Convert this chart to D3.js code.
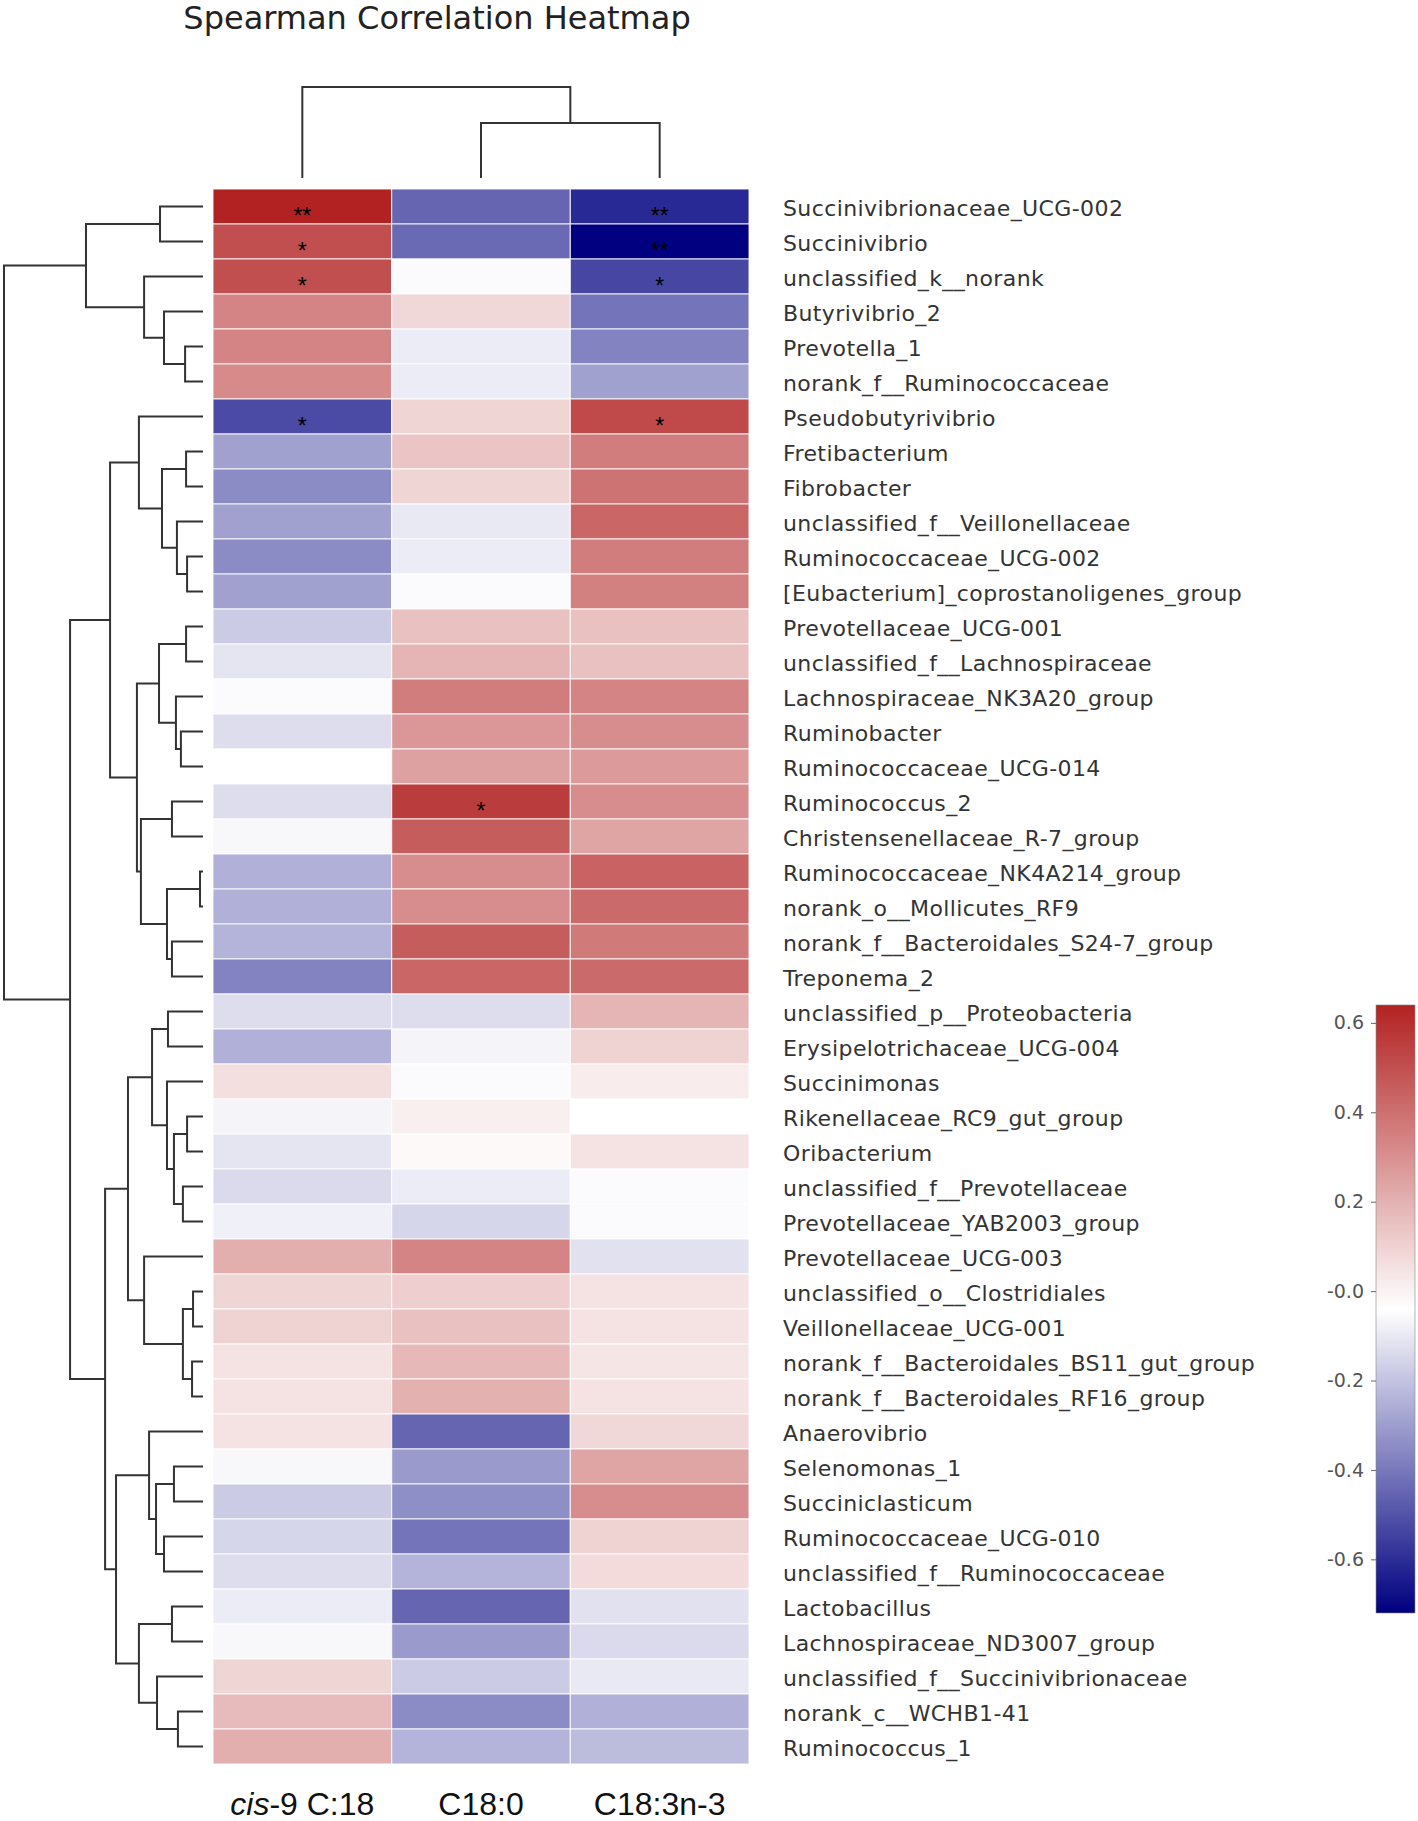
<!DOCTYPE html>
<html><head><meta charset="utf-8">
<script src="https://cdn.jsdelivr.net/npm/d3@7"></script>
<style>body{margin:0;background:#fff} svg{display:block}</style>
</head><body><svg id="chart" width="1418" height="1821"></svg>
<script>
const title = "Spearman Correlation Heatmap";
const rowLabels = [
 "Succinivibrionaceae_UCG-002","Succinivibrio","unclassified_k__norank","Butyrivibrio_2","Prevotella_1",
 "norank_f__Ruminococcaceae","Pseudobutyrivibrio","Fretibacterium","Fibrobacter","unclassified_f__Veillonellaceae",
 "Ruminococcaceae_UCG-002","[Eubacterium]_coprostanoligenes_group","Prevotellaceae_UCG-001","unclassified_f__Lachnospiraceae","Lachnospiraceae_NK3A20_group",
 "Ruminobacter","Ruminococcaceae_UCG-014","Ruminococcus_2","Christensenellaceae_R-7_group","Ruminococcaceae_NK4A214_group",
 "norank_o__Mollicutes_RF9","norank_f__Bacteroidales_S24-7_group","Treponema_2","unclassified_p__Proteobacteria","Erysipelotrichaceae_UCG-004",
 "Succinimonas","Rikenellaceae_RC9_gut_group","Oribacterium","unclassified_f__Prevotellaceae","Prevotellaceae_YAB2003_group",
 "Prevotellaceae_UCG-003","unclassified_o__Clostridiales","Veillonellaceae_UCG-001","norank_f__Bacteroidales_BS11_gut_group","norank_f__Bacteroidales_RF16_group",
 "Anaerovibrio","Selenomonas_1","Succiniclasticum","Ruminococcaceae_UCG-010","unclassified_f__Ruminococcaceae",
 "Lactobacillus","Lachnospiraceae_ND3007_group","unclassified_f__Succinivibrionaceae","norank_c__WCHB1-41","Ruminococcus_1"];
const colLabels = ["cis-9 C:18","C18:0","C18:3n-3"];
const valuesCis9 = [0.64,0.50,0.50,0.34,0.34,0.32,-0.52,-0.29,-0.35,-0.29,-0.35,-0.29,-0.18,-0.11,-0.05,-0.13,-0.04,-0.13,-0.06,-0.25,-0.25,-0.24,-0.37,-0.13,-0.25,0.06,-0.07,-0.11,-0.14,-0.08,0.21,0.09,0.10,0.05,0.05,0.05,-0.06,-0.18,-0.15,-0.13,-0.09,-0.06,0.09,0.17,0.21];
const valuesC180 = [-0.45,-0.44,-0.05,0.08,-0.09,-0.09,0.09,0.14,0.09,-0.10,-0.09,-0.05,0.15,0.19,0.36,0.28,0.25,0.56,0.46,0.31,0.31,0.46,0.43,-0.13,-0.07,-0.05,0.01,-0.02,-0.09,-0.15,0.34,0.11,0.15,0.18,0.20,-0.45,-0.31,-0.34,-0.41,-0.24,-0.45,-0.31,-0.18,-0.35,-0.24];
const valuesC183 = [-0.61,-0.72,-0.53,-0.41,-0.37,-0.29,0.52,0.36,0.39,0.43,0.36,0.35,0.15,0.15,0.34,0.31,0.27,0.31,0.24,0.44,0.42,0.37,0.42,0.19,0.10,0.02,-0.04,0.05,-0.05,-0.05,-0.12,0.05,0.05,0.04,0.05,0.08,0.24,0.31,0.10,0.07,-0.12,-0.14,-0.10,-0.25,-0.22];
const significance = [
 ["Succinivibrionaceae_UCG-002","cis-9 C:18","**"],["Succinivibrionaceae_UCG-002","C18:3n-3","**"],
 ["Succinivibrio","cis-9 C:18","*"],["Succinivibrio","C18:3n-3","**"],
 ["unclassified_k__norank","cis-9 C:18","*"],["unclassified_k__norank","C18:3n-3","*"],
 ["Pseudobutyrivibrio","cis-9 C:18","*"],["Pseudobutyrivibrio","C18:3n-3","*"],
 ["Ruminococcus_2","C18:0","*"]];
// hierarchical clustering (scipy-style linkage: ids < n are leaves, n+k is merge k)
const rowLinkage = [
 [4,5,0.090],[3,45,0.196],[2,46,0.296],[0,1,0.216],[48,47,0.588],
 [7,8,0.085],[10,11,0.080],[9,51,0.131],[50,52,0.206],[6,53,0.322],
 [12,13,0.085],[15,16,0.111],[14,56,0.136],[55,57,0.221],
 [17,18,0.156],[19,20,0.015],[21,22,0.156],[60,61,0.181],[59,62,0.312],[58,63,0.332],[54,64,0.467],
 [23,24,0.176],[26,27,0.080],[28,29,0.101],[67,68,0.146],[25,69,0.181],[66,70,0.256],
 [31,32,0.050],[33,34,0.055],[72,73,0.101],[30,74,0.296],[71,75,0.377],
 [36,37,0.146],[38,39,0.196],[77,78,0.236],[35,79,0.271],
 [40,41,0.156],[43,44,0.126],[42,82,0.231],[81,83,0.322],[80,84,0.437],
 [76,85,0.492],[65,86,0.668],[49,87,1.000]];
const colLinkage = [[1,2,0.604],[0,3,1.000]];
const colorbarTicks = [0.6,0.4,0.2,0,-0.2,-0.4,-0.6];
const colorbarTickLabels = ["0.6","0.4","0.2","-0.0","-0.2","-0.4","-0.6"];

const svg = d3.select("#chart");
const columns = [valuesCis9, valuesC180, valuesC183];
const cells = [];
rowLabels.forEach((r,i)=>colLabels.forEach((c,j)=>cells.push({row:r,col:c,v:columns[j][i]})));

const x = d3.scaleBand().domain(colLabels).range([213,749]);
const y = d3.scaleBand().domain(rowLabels).range([189,1764]);
const all = cells.map(d=>d.v);
const vmin = d3.min(all), vmax = d3.max(all);
const color = d3.scaleLinear().domain([vmin,(vmin+vmax)/2,vmax]).range(["#000080","#ffffff","#b22222"]);

// title
svg.append("text").attr("x",437).attr("y",29).attr("text-anchor","middle")
  .attr("font-family","DejaVu Sans").attr("font-size",32).attr("fill","#222").text(title);

// cells
svg.append("g").selectAll("rect").data(cells).join("rect")
  .attr("x",d=>x(d.col)).attr("y",d=>y(d.row))
  .attr("width",x.bandwidth()).attr("height",y.bandwidth())
  .attr("fill",d=>color(d.v)).attr("stroke","#ffffff").attr("stroke-opacity",0.75).attr("stroke-width",1.2);

// stars
svg.append("g").selectAll("text").data(significance).join("text")
  .attr("x",d=>x(d[1])+x.bandwidth()/2).attr("y",d=>y(d[0])+y.bandwidth()/2+17)
  .attr("text-anchor","middle").attr("font-family","Liberation Sans").attr("font-size",23)
  .attr("fill","#000").text(d=>d[2]);

// row labels
svg.append("g").selectAll("text").data(rowLabels).join("text")
  .attr("x",783).attr("y",d=>y(d)+y.bandwidth()/2+2).attr("dy","0.36em")
  .attr("font-family","DejaVu Sans").attr("font-size",22).attr("letter-spacing",0.4)
  .attr("fill","#333").text(d=>d);

// column labels
const cl = svg.append("g").selectAll("text").data(colLabels).join("text")
  .attr("x",d=>x(d)+x.bandwidth()/2).attr("y",1815).attr("text-anchor","middle")
  .attr("font-family","Liberation Sans").attr("font-size",32).attr("fill","#111");
cl.each(function(d){
  const t = d3.select(this);
  if (d.startsWith("cis")) {
    t.append("tspan").attr("font-style","italic").text("cis");
    t.append("tspan").text(d.slice(3));
  } else t.text(d);
});

// dendrogram builder
function buildTree(n, linkage, leafPos){
  const nodes = [];
  for (let i=0;i<n;i++) nodes.push({pos:leafPos(i),h:0});
  linkage.forEach(([a,b,h])=>{
    nodes.push({pos:(nodes[a].pos+nodes[b].pos)/2,h:h,children:[nodes[a],nodes[b]]});
  });
  return nodes.filter(d=>d.children);
}
const lineStyle = g=>g.attr("fill","none").attr("stroke","#333").attr("stroke-width",2);

// row dendrogram
const rowH = d3.scaleLinear().domain([0,1]).range([203,4]);
const rowNodes = buildTree(rowLabels.length,rowLinkage,i=>y(rowLabels[i])+y.bandwidth()/2);
svg.append("g").call(lineStyle).selectAll("path").data(rowNodes).join("path")
  .attr("d",d=>{
    const [a,b]=d.children, xn=rowH(d.h);
    return `M${rowH(a.h)},${a.pos}H${xn}V${b.pos}H${rowH(b.h)}`;
  });

// column dendrogram
const colH = d3.scaleLinear().domain([0,1]).range([178,87]);
const colNodes = buildTree(colLabels.length,colLinkage,i=>x(colLabels[i])+x.bandwidth()/2);
svg.append("g").call(lineStyle).selectAll("path").data(colNodes).join("path")
  .attr("d",d=>{
    const [a,b]=d.children, yn=colH(d.h);
    return `M${a.pos},${colH(a.h)}V${yn}H${b.pos}V${colH(b.h)}`;
  });

// colorbar
const cb = d3.scaleLinear().domain([vmin,vmax]).range([1613,1005]);
const defs = svg.append("defs");
const grad = defs.append("linearGradient").attr("id","cbgrad").attr("x1",0).attr("x2",0).attr("y1",1).attr("y2",0);
d3.range(0,1.0001,0.05).forEach(t=>{
  grad.append("stop").attr("offset",t).attr("stop-color",color(vmin+t*(vmax-vmin)));
});
svg.append("rect").attr("x",1376).attr("y",cb(vmax)).attr("width",39).attr("height",cb(vmin)-cb(vmax))
  .attr("fill","url(#cbgrad)").attr("stroke","#888").attr("stroke-width",0.6);
const axis = d3.axisLeft(cb).tickValues(colorbarTicks).tickFormat((d,i)=>colorbarTickLabels[i]).tickSize(5).tickPadding(7);
const ag = svg.append("g").attr("transform","translate(1376,0)").call(axis);
ag.select(".domain").remove();
ag.selectAll("line").attr("stroke","#666");
ag.selectAll("text").attr("font-family","DejaVu Sans").attr("font-size",19).attr("fill","#555");
</script></body></html>
